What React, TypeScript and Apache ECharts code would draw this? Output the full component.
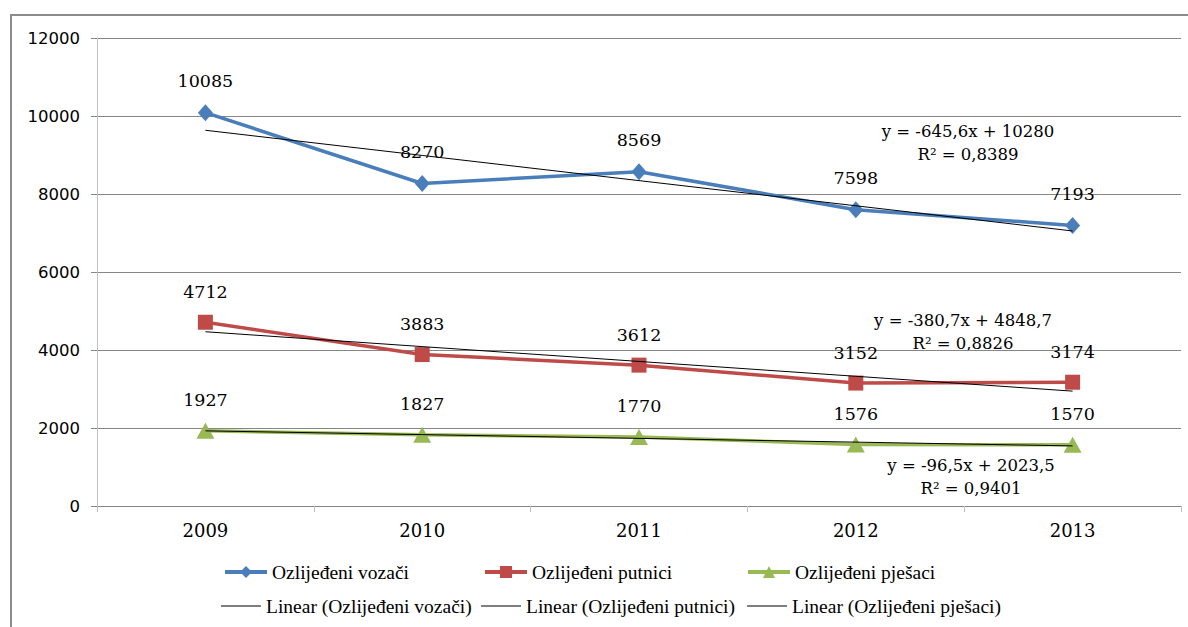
import React, { useEffect, useRef } from "react";
import * as echarts from "echarts";

const years = ["2009", "2010", "2011", "2012", "2013"];
const vozaci = [10085, 8270, 8569, 7598, 7193];
const putnici = [4712, 3883, 3612, 3152, 3174];
const pjesaci = [1927, 1827, 1770, 1576, 1570];
// trend line values as shown (linear fits printed on the chart)
const trendVozaci = [9634.4, 8988.8, 8343.2, 7697.6, 7052];
const trendPutnici = [4468, 4087.3, 3706.6, 3325.9, 2945.2];
const trendPjesaci = [1927, 1830.5, 1734, 1637.5, 1541];
const seriesNames = ["Ozlijeđeni vozači", "Ozlijeđeni putnici", "Ozlijeđeni pješaci"];
const trendNames = [
  "Linear (Ozlijeđeni vozači)",
  "Linear (Ozlijeđeni putnici)",
  "Linear (Ozlijeđeni pješaci)",
];
const equations = [
  ["y = -645,6x + 10280", "R² = 0,8389"],
  ["y = -380,7x + 4848,7", "R² = 0,8826"],
  ["y = -96,5x + 2023,5", "R² = 0,9401"],
];

const COLORS = ["#4A7EBB", "#BE4B48", "#98B954"];
const SERIF = "'DejaVu Serif', serif";
const LEGEND_FONT = "'Liberation Serif', 'Times New Roman', serif";

export default function App() {
  const ref = useRef<HTMLDivElement>(null);
  useEffect(() => {
    if (!ref.current) return;
    const chart = echarts.init(ref.current, undefined, { renderer: "svg" });
    const dataSeries = [vozaci, putnici, pjesaci];
    const trendSeries = [trendVozaci, trendPutnici, trendPjesaci];
    const symbols = ["diamond", "rect", "triangle"];
    const symbolSizes: any[] = [[15, 17], 15, [18, 16]];

    const textStyle = { fontFamily: LEGEND_FONT, fontSize: 19.5, color: "#000" };
    const row1Left = [218, 478, 741];
    const row2Left = [216, 476, 742];
    const legends: any[] = [];
    seriesNames.forEach((n, i) =>
      legends.push({
        data: [n],
        left: row1Left[i],
        top: 557,
        itemWidth: 42,
        itemHeight: 15,
        lineStyle: { width: 4 },
        textStyle,
        selectedMode: false,
      })
    );
    trendNames.forEach((n, i) =>
      legends.push({
        data: [{ name: n, icon: "rect", itemStyle: { color: "#000" } }],
        left: row2Left[i],
        top: 591,
        itemWidth: 40,
        itemHeight: 1,
        textStyle,
        selectedMode: false,
      })
    );

    const eqPos = [
      [968, 131],
      [963, 320],
      [971, 465],
    ];
    const graphics: any[] = [
      {
        type: "rect",
        shape: { x: 11, y: 15, width: 1200, height: 700 },
        style: { fill: "none", stroke: "#8c8c8c", lineWidth: 2 },
        silent: true,
      },
    ];
    equations.forEach((eq, i) => {
      [0, 1].forEach((k) =>
        graphics.push({
          type: "text",
          x: eqPos[i][0],
          y: eqPos[i][1] + k * 23,
          style: {
            text: eq[k],
            font: `16.5px ${SERIF}`,
            fill: "#000",
            align: "center",
            verticalAlign: "middle",
          },
        })
      );
    });

    const series: any[] = [];
    dataSeries.forEach((d, i) => {
      series.push({
        name: seriesNames[i],
        type: "line",
        data: d,
        symbol: symbols[i],
        symbolSize: symbolSizes[i],
        showAllSymbol: true,
        lineStyle: { color: COLORS[i], width: 3.5 },
        itemStyle: { color: COLORS[i] },
        label: {
          show: true,
          position: "top",
          distance: 14,
          color: "#000",
          fontFamily: SERIF,
          fontSize: 17.5,
        },
        z: 2,
      });
    });
    trendSeries.forEach((d, i) => {
      series.push({
        name: trendNames[i],
        type: "line",
        data: d,
        symbol: "none",
        lineStyle: { color: "#000", width: 1 },
        itemStyle: { color: "#000" },
        z: 3,
        silent: true,
      });
    });

    chart.setOption({
      animation: false,
      backgroundColor: "#fff",
      grid: { left: 97, right: 7, top: 38, bottom: 121, containLabel: false },
      legend: legends,
      graphic: graphics,
      xAxis: {
        type: "category",
        data: years,
        boundaryGap: true,
        axisLine: { lineStyle: { color: "#868686", width: 1 } },
        axisTick: { show: true, alignWithLabel: false, length: 6, lineStyle: { color: "#bfbfbf" } },
        axisLabel: { color: "#000", fontFamily: SERIF, fontSize: 18, margin: 15 },
        splitLine: { show: false },
      },
      yAxis: {
        type: "value",
        min: 0,
        max: 12000,
        interval: 2000,
        axisLine: { show: true, lineStyle: { color: "#c0c0c0", width: 1 } },
        axisTick: { show: true, length: 6, lineStyle: { color: "#868686" } },
        axisLabel: {
          color: "#000",
          fontFamily: "'DejaVu Sans', sans-serif",
          fontSize: 16.5,
          margin: 17,
          formatter: (v: number) => String(v),
        },
        splitLine: { show: true, lineStyle: { color: "#868686", width: 1 } },
      },
      series,
    });
    return () => chart.dispose();
  }, []);
  return (
    <div
      ref={ref}
      style={{ position: "fixed", left: 0, top: 0, width: 1188, height: 627, background: "#fff" }}
    />
  );
}
